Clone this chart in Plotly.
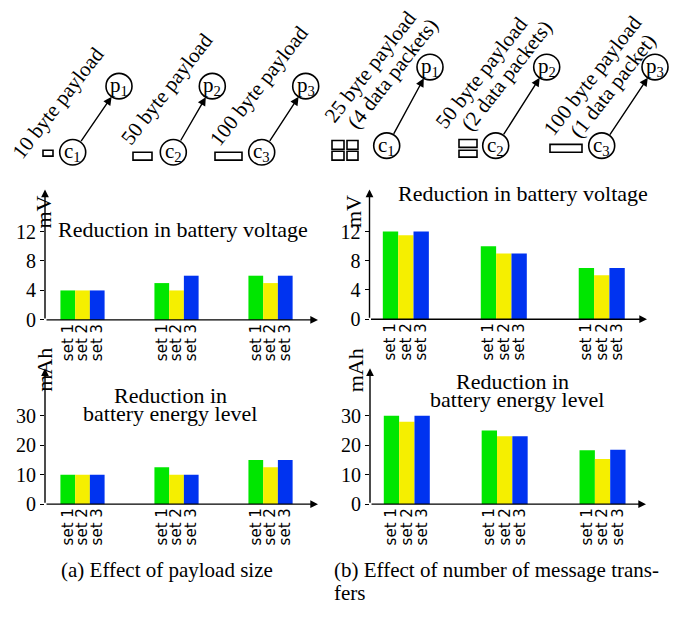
import math
import plotly.graph_objects as go

W, H = 696, 617


def px(x):
    return x / W


def py(y):
    return 1 - y / H


# ---------------- data ----------------
group_idx = [0, 1, 2]
set_names = ["set 1", "set 2", "set 3"]
set_colors = ["#00E600", "#F5EF00", "#0033F0"]

pay_volt_set1 = [4, 5, 6]
pay_volt_set2 = [4, 4, 5]
pay_volt_set3 = [4, 6, 6]

pay_energy_set1 = [10, 12.5, 15]
pay_energy_set2 = [10, 10, 12.5]
pay_energy_set3 = [10, 10, 15]

msg_volt_set1 = [12, 10, 7]
msg_volt_set2 = [11.5, 9, 6]
msg_volt_set3 = [12, 9, 7]

msg_energy_set1 = [30, 25, 18.3]
msg_energy_set2 = [28, 23, 15.3]
msg_energy_set3 = [30, 23, 18.5]

volt_ticks = [0, 4, 8, 12]
energy_ticks = [0, 10, 20, 30]

BARGAP = 0.53
SERIF = "Liberation Serif"
SANS = "DejaVu Sans"

panels = [
    dict(n="", data=[pay_volt_set1, pay_volt_set2, pay_volt_set3],
         xdom=(45, 318), ydom=(325.7, 193), xr=(-0.399, 2.505), yr=(0, 17.7),
         ticks=volt_ticks, unit="mV", unit_pos=(29, 197)),
    dict(n="2", data=[msg_volt_set1, msg_volt_set2, msg_volt_set3],
         xdom=(369.5, 647), ydom=(325, 193), xr=(-0.371, 2.462), yr=(0, 17.74),
         ticks=volt_ticks, unit="mV", unit_pos=(354, 197)),
    dict(n="3", data=[pay_energy_set1, pay_energy_set2, pay_energy_set3],
         xdom=(45, 318), ydom=(513.3, 375), xr=(-0.399, 2.505), yr=(0, 46.1),
         ticks=energy_ticks, unit="mAh", unit_pos=(30, 377)),
    dict(n="4", data=[msg_energy_set1, msg_energy_set2, msg_energy_set3],
         xdom=(370, 646), ydom=(513.3, 375), xr=(-0.376, 2.444), yr=(0, 46.1),
         ticks=energy_ticks, unit="mAh", unit_pos=(355, 377)),
]

fig = go.Figure()
annotations = []
shapes = []
layout = {}

bar_w = (1 - BARGAP) / 3
set_tickvals = [i + (k - 1) * bar_w for i in group_idx for k in range(3)]
set_ticktext = [set_names[k] for i in group_idx for k in range(3)]

for p in panels:
    xa, ya = "x" + p["n"], "y" + p["n"]
    for k in range(3):
        fig.add_trace(go.Bar(
            x=group_idx, y=p["data"][k], xaxis=xa, yaxis=ya,
            name=set_names[k], marker=dict(color=set_colors[k], line=dict(width=0)),
            showlegend=False, hoverinfo="skip"))
    layout["xaxis" + p["n"]] = dict(
        domain=[px(p["xdom"][0]), px(p["xdom"][1])], range=list(p["xr"]),
        anchor=ya, showgrid=False, zeroline=False, showline=False, ticks="",
        tickmode="array", tickvals=set_tickvals, ticktext=set_ticktext,
        tickangle=-90, tickfont=dict(family=SANS, size=15, color="black"))
    layout["yaxis" + p["n"]] = dict(
        domain=[py(p["ydom"][0]), py(p["ydom"][1])], range=list(p["yr"]),
        anchor=xa, showgrid=False, zeroline=False, showline=False,
        ticks="outside", ticklen=4, tickwidth=1.2, tickcolor="black",
        tickmode="array", tickvals=p["ticks"],
        tickfont=dict(family=SERIF, size=20, color="black"))
    # axis arrows
    for tip in [(0, 1), (1, 0)]:
        annotations.append(dict(
            xref=xa + " domain", yref=ya + " domain", x=tip[0], y=tip[1],
            axref=xa + " domain", ayref=ya + " domain", ax=0, ay=0,
            text="", showarrow=True, arrowhead=2, arrowsize=1.1,
            arrowwidth=1.4, arrowcolor="black"))
    annotations.append(dict(
        xref="paper", yref="paper", x=px(p["unit_pos"][0]), y=py(p["unit_pos"][1]),
        text=p["unit"], textangle=-90, showarrow=False,
        font=dict(family=SERIF, size=22, color="black")))


def txt(x, y, s, size=21, angle=0, xanchor="center"):
    annotations.append(dict(
        xref="paper", yref="paper", x=px(x), y=py(y), text=s, showarrow=False,
        textangle=angle, xanchor=xanchor, yanchor="middle",
        font=dict(family=SERIF, size=size, color="black")))


# chart titles
txt(183, 234, "Reduction in battery voltage", 22)
txt(523, 197, "Reduction in battery voltage", 22)
txt(170, 403, "Reduction in", 22)
txt(170, 421, "battery energy level", 22)
txt(512, 388, "Reduction in", 22)
txt(517, 407, "battery energy level", 22)

# captions
txt(167, 580, "(a) Effect of payload size", 21)
txt(332, 580, "(b) Effect of number of message trans-", 21, xanchor="left")
txt(332, 604, "fers", 21, xanchor="left")


# ---------------- top diagrams ----------------
R = 13


def circle(cx, cy, label):
    shapes.append(dict(type="circle", xref="paper", yref="paper",
                       x0=px(cx - R), x1=px(cx + R), y0=py(cy + R), y1=py(cy - R),
                       line=dict(color="black", width=1.6)))
    txt(cx, cy, label, 21)


def link(c, p):
    dx, dy = p[0] - c[0], p[1] - c[1]
    L = math.hypot(dx, dy)
    ux, uy = dx / L, dy / L
    tail = (c[0] + R * ux, c[1] + R * uy)
    tip = (p[0] - R * ux, p[1] - R * uy)
    annotations.append(dict(
        xref="paper", yref="paper", x=px(tip[0]), y=py(tip[1]),
        ax=tail[0] - tip[0], ay=tail[1] - tip[1], text="", showarrow=True,
        arrowhead=2, arrowsize=1.2, arrowwidth=1.4, arrowcolor="black"))


def rect(x0, y0, x1, y1):
    shapes.append(dict(type="rect", xref="paper", yref="paper",
                       x0=px(x0), x1=px(x1), y0=py(y1), y1=py(y0),
                       line=dict(color="black", width=1.6)))


left_nodes = [((72.7, 155), (119, 87.7)), ((173.3, 155), (212.3, 87.7)),
              ((261.7, 155), (305.7, 87.7))]
right_nodes = [((386.7, 148.3), (430, 68.3)), ((495.7, 148.3), (546.7, 68.3)),
               ((601.7, 148.3), (655, 68.3))]
for i, (c, p) in enumerate(left_nodes + right_nodes):
    k = i % 3 + 1
    circle(c[0], c[1], f"c<sub>{k}</sub>")
    circle(p[0], p[1], f"p<sub>{k}</sub>")
    link(c, p)

rect(43, 153, 53, 159)
rect(133, 155, 152, 163)
rect(215, 155, 242, 163)
rect(332, 143, 344, 152)
rect(347, 143, 358, 152)
rect(332, 154, 344, 163)
rect(347, 154, 358, 163)
rect(459, 142, 477, 150)
rect(459, 153, 477, 160)
rect(550, 147, 582, 155)

ANG = -52
txt(58, 105, "10 byte payload", 21, ANG)
txt(167, 91, "50 byte payload", 21, ANG)
txt(259, 88, "100 byte payload", 21, ANG)
txt(370, 68, "25 byte payload", 21, ANG)
txt(392, 75, "(4 data packets)", 21, ANG)
txt(481, 74, "50 byte payload", 21, ANG)
txt(506, 77, "(2 data packets)", 21, ANG)
txt(592, 77, "100 byte payload", 21, ANG)
txt(613, 88, "(1 data packet)", 21, ANG)

fig.update_layout(
    width=W, height=H, margin=dict(l=0, r=0, t=0, b=0),
    paper_bgcolor="white", plot_bgcolor="white",
    barmode="group", bargap=BARGAP, bargroupgap=0,
    annotations=annotations, shapes=shapes, **layout)

fix_page = (
    "document.documentElement.style.margin='0';"
    "document.body.style.margin='0';"
)

fig.write_html("out.html", config={"displayModeBar": False}, post_script=fix_page)
